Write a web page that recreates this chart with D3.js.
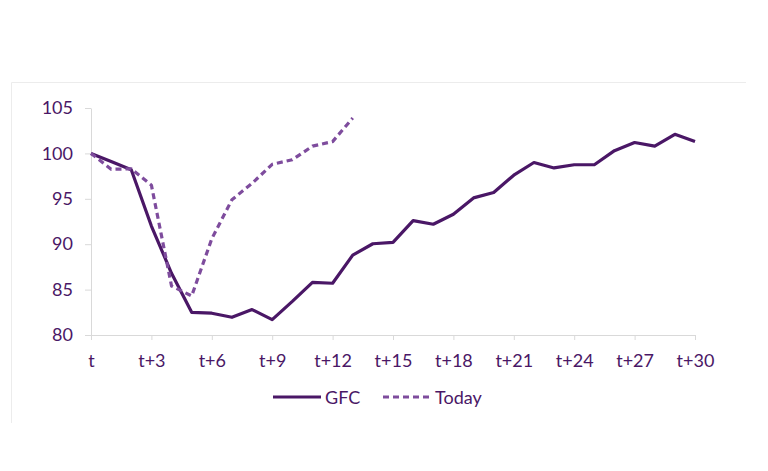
<!DOCTYPE html>
<html><head><meta charset="utf-8">
<script src="https://cdn.jsdelivr.net/npm/d3@7"></script>
<style>body{margin:0;background:#fff}svg{display:block}</style>
</head><body><svg id="c" width="768" height="471"></svg>
<script>
const months = d3.range(0, 31);
const gfc = [100,99.1,98.2,92,86.8,82.5,82.4,81.95,82.8,81.7,83.7,85.8,85.7,88.8,90.05,90.2,92.6,92.2,93.3,95.1,95.7,97.6,99.0,98.4,98.75,98.75,100.3,101.2,100.8,102.1,101.3];
const today = [100,98.25,98.3,96.5,85.4,84.3,90.6,94.9,96.7,98.8,99.3,100.8,101.3,103.9];
const yTicks = [80,85,90,95,100,105];
const xTicks = d3.range(0, 31, 3);
const xLabel = d => d === 0 ? "t" : "t+" + d;

const svg = d3.select("#c");
const font = "Lato, 'Noto Sans', sans-serif";
const textCol = "#4a1766";
const gfcCol = "#4a1766";
const todayCol = "#7e4c9d";
const fs = "18px";

// partial outer frame (top and left only)
svg.append("line").attr("x1",11.5).attr("x2",746).attr("y1",82.5).attr("y2",82.5)
  .attr("stroke","#ececec").attr("stroke-width",1);
svg.append("line").attr("x1",11.5).attr("x2",11.5).attr("y1",82.5).attr("y2",423)
  .attr("stroke","#ececec").attr("stroke-width",1);

const x = d3.scaleLinear().domain([0,30]).range([91,695]);
const y = d3.scaleLinear().domain([80,105]).range([335,108]);

// y axis
const ya = svg.append("g").attr("transform","translate(91,0)")
  .call(d3.axisLeft(y).tickValues(yTicks).tickSize(6).tickPadding(12).tickSizeOuter(0));
ya.select(".domain").attr("stroke","#d9d9d9");
ya.selectAll(".tick line").attr("stroke","#d9d9d9");
ya.selectAll("text").attr("fill",textCol).attr("font-family",font).attr("font-size",fs);

// x axis
const xa = svg.append("g").attr("transform","translate(0,335)")
  .call(d3.axisBottom(x).tickValues(xTicks).tickFormat(xLabel).tickSize(5).tickPadding(14).tickSizeOuter(0));
xa.select(".domain").attr("stroke","#d9d9d9");
xa.selectAll(".tick line").attr("stroke","#d9d9d9");
xa.selectAll("text").attr("fill",textCol).attr("font-family",font).attr("font-size",fs);

const line = d3.line().x((d,i)=>x(i)).y(d=>y(d));

svg.append("path").datum(gfc).attr("d",line).attr("fill","none")
  .attr("stroke",gfcCol).attr("stroke-width",3.2).attr("stroke-linejoin","round");
svg.append("path").datum(today).attr("d",line).attr("fill","none")
  .attr("stroke",todayCol).attr("stroke-width",3.2).attr("stroke-dasharray","6,4").attr("stroke-linejoin","round");

// legend
const lg = svg.append("g");
lg.append("line").attr("x1",273).attr("x2",321).attr("y1",397).attr("y2",397)
  .attr("stroke",gfcCol).attr("stroke-width",3.2);
lg.append("text").attr("x",325).attr("y",403.5).text("GFC")
  .attr("fill",textCol).attr("font-family",font).attr("font-size",fs);
lg.append("line").attr("x1",383).attr("x2",432).attr("y1",397).attr("y2",397)
  .attr("stroke",todayCol).attr("stroke-width",3.2).attr("stroke-dasharray","6,4");
lg.append("text").attr("x",435).attr("y",403.5).text("Today")
  .attr("fill",textCol).attr("font-family",font).attr("font-size",fs);
</script></body></html>
